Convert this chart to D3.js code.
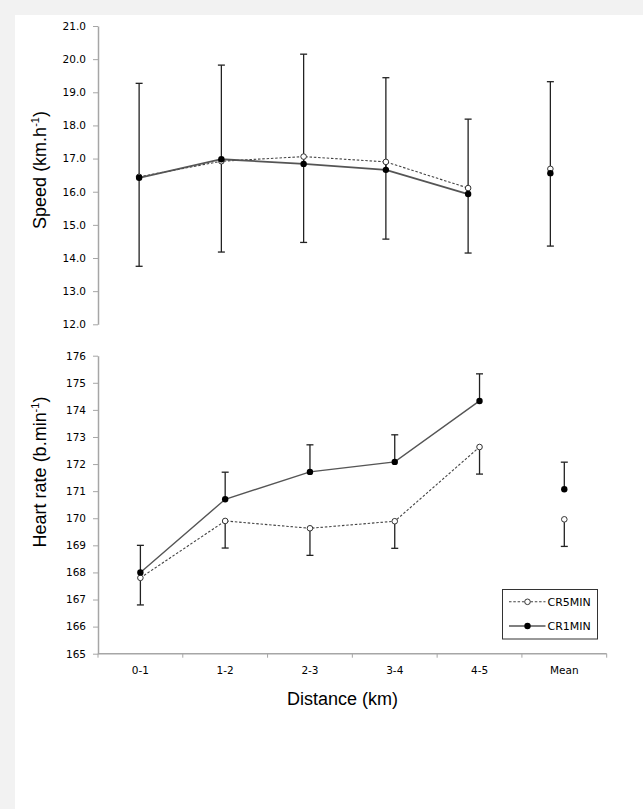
<!DOCTYPE html>
<html>
<head>
<meta charset="utf-8">
<script src="https://cdn.jsdelivr.net/npm/d3@7/dist/d3.min.js"></script>
<style>
  html, body { margin: 0; padding: 0; background: #f2f2f2; }
  svg { display: block; }
</style>
</head>
<body>
<script>
// ---- data ----
const categories = ["0-1", "1-2", "2-3", "3-4", "4-5", "Mean"];
const seriesNames = ["CR5MIN", "CR1MIN"];

const speedCR5 = [16.45, 16.92, 17.06, 16.90, 16.11, 16.69];
const speedCR1 = [16.42, 16.98, 16.84, 16.66, 15.93, 16.56];
const speedSdCR5 = [2.70, 2.74, 2.59, 2.33, 1.96, 2.33];
const speedSdCR1 = [2.85, 2.84, 3.31, 2.78, 2.26, 2.76];

const hrCR5 = [167.8, 169.9, 169.63, 169.89, 172.63, 169.96];
const hrCR1 = [168.0, 170.7, 171.71, 172.08, 174.33, 171.07];
const hrSdCR5 = [1.0, 1.0, 1.0, 1.0, 1.0, 1.0];
const hrSdCR1 = [1.0, 1.0, 1.0, 1.0, 1.0, 1.0];

const speedTicks = [12, 13, 14, 15, 16, 17, 18, 19, 20, 21];
const hrTicks = [165, 166, 167, 168, 169, 170, 171, 172, 173, 174, 175, 176];

// ---- setup ----
const W = 643, H = 809;
const svg = d3.select("body").append("svg").attr("width", W).attr("height", H);
svg.append("rect").attr("x", 0).attr("y", 0).attr("width", W).attr("height", H).attr("fill", "#f2f2f2");
svg.append("rect").attr("x", 15).attr("y", 15).attr("width", W - 15).attr("height", H - 15).attr("fill", "#ffffff");

const tickFont = "DejaVu Sans, Verdana, sans-serif";
const titleFont = "Liberation Sans, Arial, sans-serif";
const axisColor = "#a6a6a6";
const lineColor = "#555555";

function styleAxis(g) {
  g.select(".domain").attr("stroke", axisColor).attr("stroke-width", 1.5);
  g.selectAll(".tick line").attr("stroke", axisColor).attr("stroke-width", 1);
  g.selectAll(".tick text").attr("fill", "#000").attr("font-family", tickFont).attr("font-size", 10.5);
}

function drawPanel(opts) {
  const { xRange, yDomain, yRange, ticks, fmt, cr5, cr1, sd5, sd1, lineW } = opts;
  const x = d3.scaleBand().domain(categories).range(xRange).paddingInner(0).paddingOuter(0);
  const y = d3.scaleLinear().domain(yDomain).range(yRange);
  const cx = c => x(c) + x.bandwidth() / 2;

  const gy = svg.append("g").attr("transform", `translate(${xRange[0]},0)`)
    .call(d3.axisLeft(y).tickValues(ticks).tickFormat(fmt).tickSize(5).tickPadding(7).tickSizeOuter(0));
  styleAxis(gy);

  const lineCats = categories.slice(0, 5);
  const lineGen = d3.line().x(d => cx(d.c)).y(d => y(d.v));

  // error bars
  const capW = 3.5;
  function errBars(vals, sds, dir) {
    const g = svg.append("g");
    categories.forEach((c, i) => {
      const y0 = y(vals[i]), y1 = y(vals[i] + dir * sds[i]);
      g.append("line").attr("x1", cx(c)).attr("x2", cx(c)).attr("y1", y0).attr("y2", y1)
        .attr("stroke", "#222").attr("stroke-width", 1.3);
      g.append("line").attr("x1", cx(c) - capW).attr("x2", cx(c) + capW).attr("y1", y1).attr("y2", y1)
        .attr("stroke", "#222").attr("stroke-width", 1.3);
    });
  }
  errBars(cr1, sd1, +1);
  errBars(cr5, sd5, -1);

  // lines
  svg.append("path").datum(lineCats.map((c, i) => ({ c, v: cr5[i] })))
    .attr("d", lineGen).attr("fill", "none").attr("stroke", "#444").attr("stroke-width", 1.1)
    .attr("stroke-dasharray", "2.5,1.8");
  svg.append("path").datum(lineCats.map((c, i) => ({ c, v: cr1[i] })))
    .attr("d", lineGen).attr("fill", "none").attr("stroke", lineColor).attr("stroke-width", lineW);

  // markers
  svg.append("g").selectAll("circle").data(categories).join("circle")
    .attr("cx", c => cx(c)).attr("cy", (c, i) => y(cr5[i])).attr("r", 2.8)
    .attr("fill", "#fff").attr("stroke", "#333").attr("stroke-width", 1);
  svg.append("g").selectAll("circle").data(categories).join("circle")
    .attr("cx", c => cx(c)).attr("cy", (c, i) => y(cr1[i])).attr("r", 3.2)
    .attr("fill", "#000");

  return { x, y };
}

// ---- top panel: speed ----
drawPanel({
  xRange: [98, 591.5], yDomain: [12, 21], yRange: [324.3, 26],
  ticks: speedTicks, fmt: d3.format(".1f"),
  cr5: speedCR5, cr1: speedCR1, sd5: speedSdCR5, sd1: speedSdCR1, lineW: 1.8
});

// ---- bottom panel: heart rate ----
const bottom = drawPanel({
  xRange: [98, 606.7], yDomain: [165, 176], yRange: [653.7, 355.7],
  ticks: hrTicks, fmt: d3.format("d"),
  cr5: hrCR5, cr1: hrCR1, sd5: hrSdCR5, sd1: hrSdCR1, lineW: 1.4
});

// bottom x axis
const xb = bottom.x;
const gx = svg.append("g").attr("transform", `translate(0,${bottom.y(165)})`)
  .call(d3.axisBottom(xb).tickSize(0).tickPadding(13));
styleAxis(gx);
gx.select(".domain").attr("d", `M${xb.range()[0]},0H${xb.range()[1]}`);
const boundaries = d3.range(categories.length + 1).map(i => xb.range()[0] + i * xb.step());
gx.append("g").selectAll("line").data(boundaries).join("line")
  .attr("x1", d => d).attr("x2", d => d).attr("y1", 0).attr("y2", 4)
  .attr("stroke", axisColor).attr("stroke-width", 1);

// ---- titles ----
function yTitle(cx, cy, main, sup) {
  const t = svg.append("text")
    .attr("transform", `translate(${cx},${cy}) rotate(-90)`)
    .attr("text-anchor", "middle")
    .attr("font-family", titleFont).attr("font-size", 18).attr("fill", "#000");
  t.append("tspan").text(main);
  t.append("tspan").attr("font-size", 11).attr("dy", -7).text(sup);
  t.append("tspan").attr("dy", 7).text(")");
}
yTitle(46, 170, "Speed (km.h", "-1");
yTitle(46, 472, "Heart rate (b.min", "-1");

svg.append("text").attr("x", 342.5).attr("y", 705).attr("text-anchor", "middle")
  .attr("font-family", titleFont).attr("font-size", 18).attr("fill", "#000")
  .text("Distance (km)");

// ---- legend ----
const lg = svg.append("g").attr("transform", "translate(502.5,589.5)");
lg.append("rect").attr("width", 95).attr("height", 49.5)
  .attr("fill", "#fff").attr("stroke", "#333").attr("stroke-width", 1);
const legendRows = [
  { name: seriesNames[0], dash: "2.5,1.8", fill: "#fff", r: 2.8, y: 12.3 },
  { name: seriesNames[1], dash: null, fill: "#000", r: 3.2, y: 36.5 }
];
legendRows.forEach(r => {
  lg.append("line").attr("x1", 6.5).attr("x2", 43).attr("y1", r.y).attr("y2", r.y)
    .attr("stroke", r.dash ? "#444" : lineColor).attr("stroke-width", r.dash ? 1.1 : 1.4)
    .attr("stroke-dasharray", r.dash);
  lg.append("circle").attr("cx", 25).attr("cy", r.y).attr("r", r.r)
    .attr("fill", r.fill).attr("stroke", r.dash ? "#333" : "none").attr("stroke-width", 1);
  lg.append("text").attr("x", 45).attr("y", r.y + 4).attr("font-family", tickFont)
    .attr("font-size", 11).attr("fill", "#000").text(r.name);
});
</script>
</body>
</html>
